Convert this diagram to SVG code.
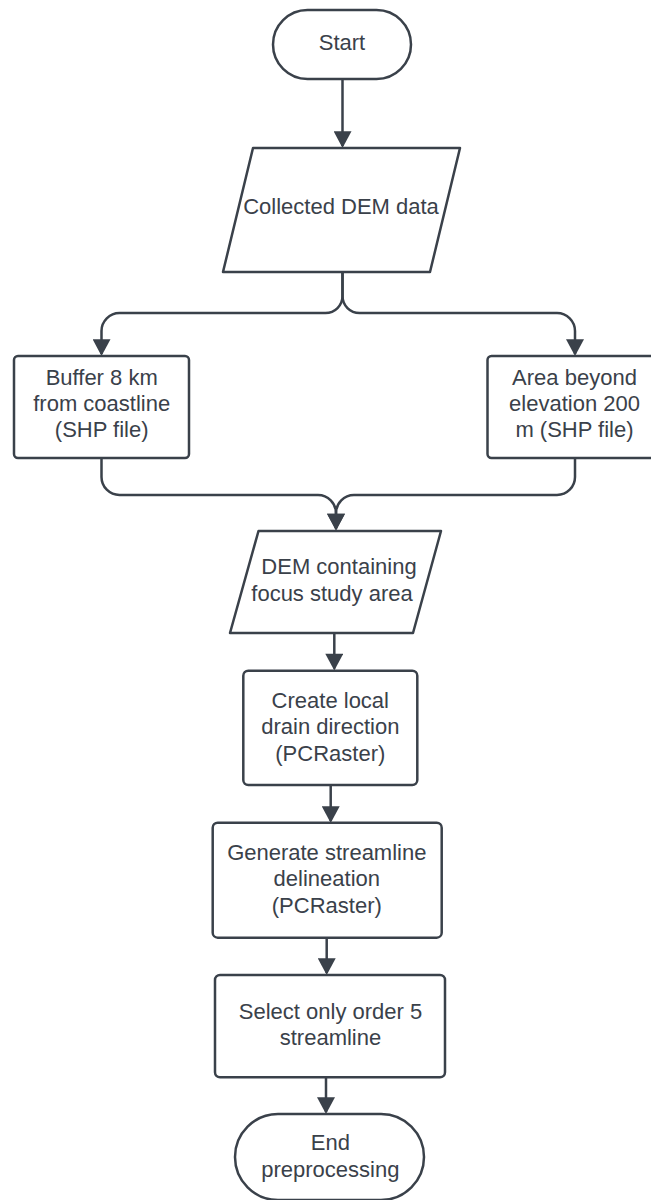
<svg xmlns="http://www.w3.org/2000/svg" width="651" height="1200" viewBox="0 0 651 1200">
<style>
.s{fill:#ffffff;stroke:#3a414a;stroke-width:2.5;stroke-linejoin:round}
.t{font-family:"Liberation Sans",Arial,sans-serif;font-size:22px;fill:#3a414a;text-anchor:middle}
.c{fill:none;stroke:#3a414a;stroke-width:2.5}
</style>
<defs>
<marker id="ah" markerUnits="userSpaceOnUse" markerWidth="18" markerHeight="18" viewBox="0 0 16 17" refX="14" refY="8.5" orient="auto">
<path d="M0,0 L16,8.5 L0,17 z" fill="#3a414a"/>
</marker>
</defs>
<rect width="651" height="1200" fill="#ffffff"/>
<g id="connectors">
<path class="c" d="M342.5,79 V146" marker-end="url(#ah)"/>
<path class="c" d="M342.5,272 V296 A17,17 0 0 1 325.5,313 H119.5 A18,18 0 0 0 101.5,331 V354" marker-end="url(#ah)"/>
<path class="c" d="M342.5,272 V296 A17,17 0 0 0 359.5,313 H557 A18,18 0 0 1 575,331 V354" marker-end="url(#ah)"/>
<path class="c" d="M101.5,458 V477 A18,18 0 0 0 119.5,495 H318 A18,18 0 0 1 336,513 V528.5" marker-end="url(#ah)"/>
<path class="c" d="M575,458 V477 A18,18 0 0 1 557,495 H354 A18,18 0 0 0 336,513 V528.5" marker-end="url(#ah)"/>
<path class="c" d="M334.3,633 V668.5" marker-end="url(#ah)"/>
<path class="c" d="M330.7,785 V821" marker-end="url(#ah)"/>
<path class="c" d="M326.7,937.7 V973" marker-end="url(#ah)"/>
<path class="c" d="M326,1077.3 V1112" marker-end="url(#ah)"/>
</g>
<g id="start">
<rect class="s" x="273" y="10" width="138" height="69" rx="34.5"/>
<text class="t" x="342" y="50">Start</text>
</g>
<g id="collected">
<polygon class="s" points="253,148 460,148 430,272 223,272"/>
<text class="t" x="341" y="214">Collected DEM data</text>
</g>
<g id="buffer">
<rect class="s" x="14" y="356" width="175" height="102" rx="4"/>
<text class="t" x="101.7" y="384.5">Buffer 8 km</text>
<text class="t" x="101.7" y="410.5">from coastline</text>
<text class="t" x="101.7" y="436.5">(SHP file)</text>
</g>
<g id="area">
<rect class="s" x="487.5" y="356" width="175" height="102" rx="4"/>
<text class="t" x="574.5" y="384.5">Area beyond</text>
<text class="t" x="574.5" y="410.5">elevation 200</text>
<text class="t" x="574.5" y="436.5">m (SHP file)</text>
</g>
<g id="dem">
<polygon class="s" points="258.5,531 441,531 413,633 230,633"/>
<text class="t" x="339" y="574.3">DEM containing</text>
<text class="t" x="332" y="600.7">focus study area</text>
</g>
<g id="create">
<rect class="s" x="243.3" y="670.7" width="174" height="114.3" rx="5"/>
<text class="t" x="330.3" y="707.5">Create local</text>
<text class="t" x="330.3" y="734">drain direction</text>
<text class="t" x="330.3" y="760.5">(PCRaster)</text>
</g>
<g id="generate">
<rect class="s" x="212.7" y="822.7" width="229" height="115" rx="5"/>
<text class="t" x="326.8" y="859.5">Generate streamline</text>
<text class="t" x="326.8" y="886">delineation</text>
<text class="t" x="326.8" y="912.5">(PCRaster)</text>
</g>
<g id="select">
<rect class="s" x="215" y="975" width="230" height="102.3" rx="5"/>
<text class="t" x="330.5" y="1019">Select only order 5</text>
<text class="t" x="330.5" y="1045">streamline</text>
</g>
<g id="end">
<rect class="s" x="235" y="1114" width="189" height="86" rx="43"/>
<text class="t" x="330.3" y="1150">End</text>
<text class="t" x="330.3" y="1176.5">preprocessing</text>
</g>
</svg>
